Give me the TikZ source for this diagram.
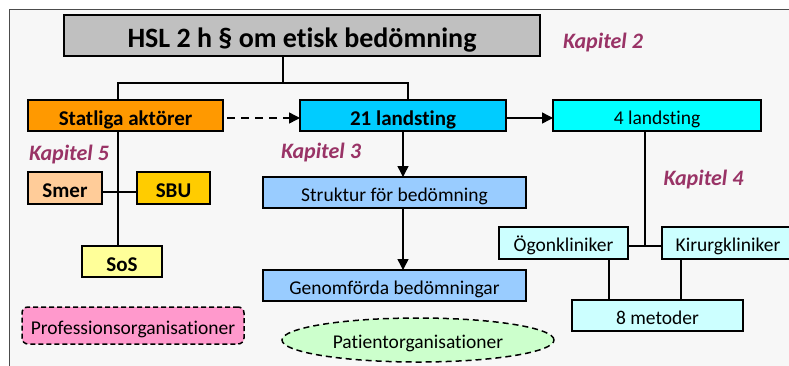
\documentclass[tikz,border=0pt]{standalone}
\usepackage{fontspec}
\setmainfont{Carlito}[Ligatures={NoCommon}]
\usetikzlibrary{arrows.meta,shapes.geometric}
\definecolor{panelbg}{HTML}{F7F7F7}
\definecolor{kap}{HTML}{993366}
\definecolor{titlegray}{HTML}{C0C0C0}
\definecolor{orangef}{HTML}{FF9900}
\definecolor{bluef}{HTML}{00CCFF}
\definecolor{cyanf}{HTML}{00FFFF}
\definecolor{lcyanf}{HTML}{CCFFFF}
\definecolor{skyf}{HTML}{99CCFF}
\definecolor{smerf}{HTML}{FFCC99}
\definecolor{sbuf}{HTML}{FFCC00}
\definecolor{sosf}{HTML}{FFFF99}
\definecolor{pinkf}{HTML}{FF99CC}
\definecolor{greenf}{HTML}{CCFFCC}
\tikzset{
  box/.style={draw=black, line width=1.5pt, inner sep=0pt, outer sep=0pt},
  bfont/.style={font=\fontsize{21}{24}\selectfont\bfseries, text height=20pt, text depth=1pt},
  rfont/.style={font=\fontsize{19.5}{23}\selectfont, text height=19pt, text depth=2pt},
  kaplabel/.style={text=kap, font=\fontsize{22}{25}\selectfont\bfseries\itshape, inner sep=0pt},
  conn/.style={line width=1.5pt, draw=black},
  arr/.style={conn, -{Triangle[length=11pt,width=11pt]}},
}
\begin{document}
\begin{tikzpicture}[x=1pt,y=-1pt]
\useasboundingbox (0,0) rectangle (789,365);
\fill[white] (0,0) rectangle (789,365);
\draw[fill=panelbg, draw=black!70, line width=0.8pt] (9.5,9.5) rectangle (800,380);
% nodes
\node[box, fill=titlegray, minimum width=476pt, minimum height=41pt, font=\fontsize{28}{31}\selectfont\bfseries, text height=25pt, text depth=2pt] (title) at (302,35.5) {HSL 2 h § om etisk bedömning};
\node[box, fill=orangef, minimum width=195pt, minimum height=31pt, bfont] (stat) at (125.5,115.5) {Statliga aktörer};
\node[box, fill=bluef, minimum width=206pt, minimum height=31pt, bfont] (l21) at (403,115.5) {21 landsting};
\node[box, fill=cyanf, minimum width=208pt, minimum height=31pt, rfont] (l4) at (657,115.5) {4 landsting};
\node[box, fill=smerf, minimum width=74pt, minimum height=32pt, bfont] (smer) at (65,188) {Smer};
\node[box, fill=sbuf, minimum width=73pt, minimum height=32pt, bfont] (sbu) at (173.5,188) {SBU};
\node[box, fill=sosf, minimum width=80pt, minimum height=31pt, bfont] (sos) at (122,261.5) {SoS};
\node[box, fill=skyf, minimum width=263pt, minimum height=31pt, rfont] (struk) at (394.5,192.5) {Struktur för bedömning};
\node[box, fill=skyf, minimum width=263pt, minimum height=31pt, rfont] (genom) at (394.5,285.5) {Genomförda bedömningar};
\node[box, fill=lcyanf, minimum width=129pt, minimum height=32pt, rfont] (ogon) at (563.5,243) {Ögonkliniker};
\node[box, fill=lcyanf, minimum width=132pt, minimum height=32pt, rfont] (kir) at (728,243) {Kirurgkliniker};
\node[box, fill=lcyanf, minimum width=171pt, minimum height=31pt, rfont] (metod) at (657.5,315.5) {8 metoder};
\node[box, fill=pinkf, dashed, dash pattern=on 5pt off 3pt, rounded corners=6pt, minimum width=222pt, minimum height=37pt, rfont] (prof) at (133,325.5) {Professionsorganisationer};
\node[ellipse, draw=black, line width=1.5pt, dash pattern=on 6pt off 4pt, fill=greenf, inner sep=0pt, minimum width=272pt, minimum height=44pt, rfont] (pat) at (418,340) {Patientorganisationer};
% chapter labels
\node[kaplabel] (k2) at (603,43) {Kapitel 2};
\node[kaplabel] (k5) at (69,155) {Kapitel 5};
\node[kaplabel] (k3) at (321,153) {Kapitel 3};
\node[kaplabel] (k4) at (703.5,180) {Kapitel 4};
% connectors
\coordinate (split) at (283,83);
\draw[conn] (title.south -| split) -- (split);
\draw[conn] (stat.north -| 118,0) |- (split) -| (l21.north -| 408,0);
\draw[arr, dash pattern=on 8pt off 6pt, shorten <=4pt] (stat.east |- 0,118) -- (l21.west |- 0,118);
\draw[arr] (l21.east |- 0,118) -- (l4.west |- 0,118);
\draw[arr] (l21.south -| 403,0) -- (struk.north -| 403,0);
\draw[arr] (struk.south -| 403,0) -- (genom.north -| 403,0);
\draw[conn] (stat.south -| 118,0) -- (sos.north -| 118,0);
\draw[conn] (smer.east |- 0,192) -- (sbu.west |- 0,192);
\draw[conn] (l4.south -| 645,0) -- (645,246);
\draw[conn] (ogon.east |- 0,246) -- (kir.west |- 0,246);
\draw[conn] (ogon.south -| 609,0) -- (metod.north -| 609,0);
\draw[conn] (kir.south -| 681,0) -- (metod.north -| 681,0);
\end{tikzpicture}
\end{document}
